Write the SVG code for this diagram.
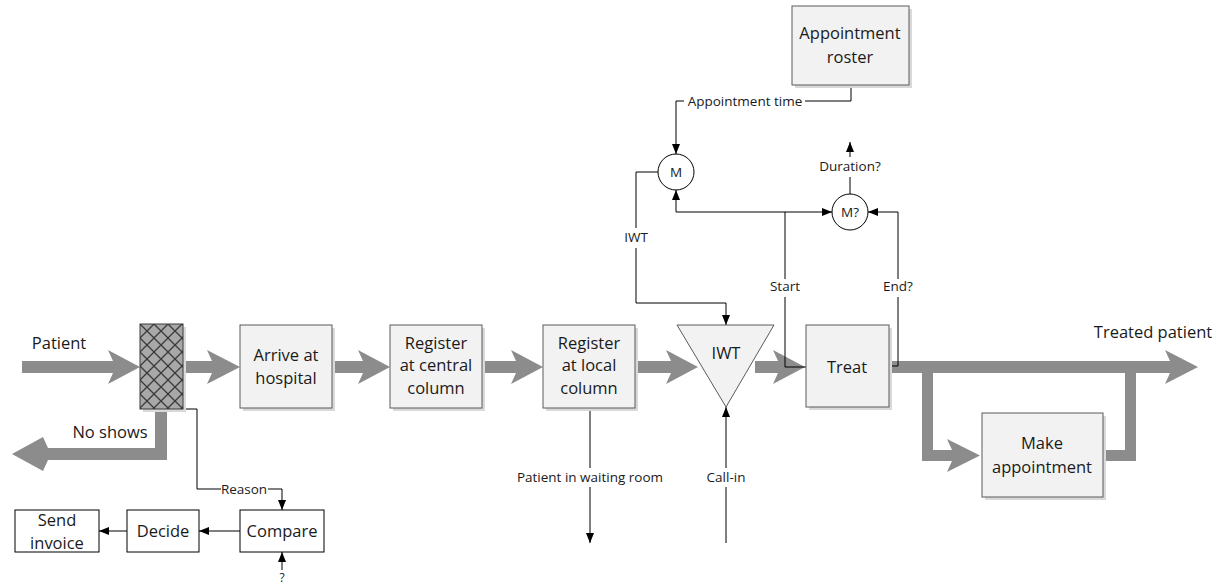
<svg xmlns="http://www.w3.org/2000/svg" width="1232" height="586" viewBox="0 0 1232 586">
  <style>
    .box { fill: #f2f2f2; stroke: #5a5a5a; stroke-width: 1; }
    .shadow { fill: #d9d9d9; }
    .plain { fill: #ffffff; stroke: #000000; stroke-width: 1; }
    .flow { fill: #8c8c8c; }
    .wire { fill: none; stroke: #000000; stroke-width: 1; }
    .big { font-family: "Open Sans", "Liberation Sans", sans-serif; font-size: 16.5px; fill: #1a1a1a; text-anchor: middle; }
    .small { font-family: "Open Sans", "Liberation Sans", sans-serif; font-size: 13.5px; fill: #1a1a1a; text-anchor: middle; }
  </style>
  <defs>
    <pattern id="hatch" width="14" height="14" patternUnits="userSpaceOnUse" x="140" y="324">
      <rect width="14" height="14" fill="#a8a8a8"/>
      <path d="M0,0 L14,14 M14,0 L0,14 M-1,13 L1,15 M13,-1 L15,1" stroke="#3a3a3a" stroke-width="1.3"/>
    </pattern>
    <marker id="ah" markerWidth="10" markerHeight="8" refX="10" refY="4" orient="auto" markerUnits="userSpaceOnUse">
      <path d="M0,0 L10,4 L0,8 Z" fill="#000000"/>
    </marker>
  </defs>

  <!-- thick material flow arrows -->
  <g id="flows">
    <polygon class="flow" points="22,361 113,361 108,350 140,367 108,384 113,373 22,373"/>
    <polygon class="flow" points="183,361 212,361 207,350 240,367 207,384 212,373 183,373"/>
    <polygon class="flow" points="332,361 363,361 358,350 390,367 358,384 363,373 332,373"/>
    <polygon class="flow" points="482,361 516,361 511,350 543,367 511,384 516,373 482,373"/>
    <polygon class="flow" points="635,361 671,361 666,350 698,367 666,384 671,373 635,373"/>
    <polygon class="flow" points="755,361 778,361 773,350 805,367 773,384 778,373 755,373"/>
    <!-- treated patient exit with appointment loop -->
    <polygon class="flow" points="889,361 1170,361 1165,350 1198,367 1165,384 1170,373 1136,373 1136,461 1103,461 1103,450 1125,450 1125,373 933,373 933,450 952,450 947,439 980,455.5 947,472 952,461 922,461 922,373 889,373"/>
    <!-- no shows -->
    <polygon class="flow" points="155,409 167,409 167,460 48,460 43,471 12,454 43,437 48,448 155,448"/>
  </g>

  <!-- information connectors -->
  <g id="connectors">
    <path class="wire" d="M851,85 V101 H805"/>
    <path class="wire" d="M684,101 H676 V154" marker-end="url(#ah)"/>
    <path class="wire" d="M658,172 H636 V228"/>
    <path class="wire" d="M636,248 V303 H726 V325" marker-end="url(#ah)"/>
    <path class="wire" d="M806,367 H785 V297"/>
    <path class="wire" d="M785,279 V212 H676 V190" marker-end="url(#ah)"/>
    <path class="wire" d="M785,212 H832" marker-end="url(#ah)"/>
    <path class="wire" d="M889,366 H898 V297"/>
    <path class="wire" d="M898,279 V212 H868" marker-end="url(#ah)"/>
    <path class="wire" d="M850,194 V177"/>
    <path class="wire" d="M850,157 V142" marker-end="url(#ah)"/>
    <path class="wire" d="M590,408 V468"/>
    <path class="wire" d="M590,487 V543" marker-end="url(#ah)"/>
    <path class="wire" d="M726,543 V487"/>
    <path class="wire" d="M726,468 V407" marker-end="url(#ah)"/>
    <path class="wire" d="M183,409 H197 V489 H221"/>
    <path class="wire" d="M268,489 H282 V510" marker-end="url(#ah)"/>
    <path class="wire" d="M240,531 H199" marker-end="url(#ah)"/>
    <path class="wire" d="M127,531 H99" marker-end="url(#ah)"/>
    <path class="wire" d="M282,570 V552" marker-end="url(#ah)"/>
  </g>

  <!-- connector labels -->
  <g id="labels">
    <text class="big" x="59" y="349">Patient</text>
    <text class="big" x="110" y="438">No shows</text>
    <text class="big" x="1153" y="338">Treated patient</text>
    <text class="small" x="745" y="106">Appointment time</text>
    <text class="small" x="636" y="242">IWT</text>
    <text class="small" x="850" y="171">Duration?</text>
    <text class="small" x="785" y="291">Start</text>
    <text class="small" x="898" y="291">End?</text>
    <text class="small" x="590" y="482">Patient in waiting room</text>
    <text class="small" x="726" y="482">Call-in</text>
    <text class="small" x="244" y="494">Reason</text>
    <text class="small" x="282" y="582" style="font-size:12px">?</text>
  </g>

  <g id="gate">
    <rect class="shadow" x="143" y="327" width="43" height="85"/>
    <rect x="140" y="324" width="43" height="85" fill="url(#hatch)" stroke="#3a3a3a" stroke-width="1"/>
  </g>

  <g id="arrive">
    <rect class="shadow" x="243" y="328" width="92" height="83"/>
    <rect class="box" x="240" y="325" width="92" height="83"/>
    <text class="big" x="286" y="361">Arrive at</text>
    <text class="big" x="286" y="384">hospital</text>
  </g>

  <g id="register-central">
    <rect class="shadow" x="393" y="328" width="92" height="83"/>
    <rect class="box" x="390" y="325" width="92" height="83"/>
    <text class="big" x="436" y="349">Register</text>
    <text class="big" x="436" y="371">at central</text>
    <text class="big" x="436" y="394">column</text>
  </g>

  <g id="register-local">
    <rect class="shadow" x="546" y="328" width="92" height="83"/>
    <rect class="box" x="543" y="325" width="92" height="83"/>
    <text class="big" x="589" y="349">Register</text>
    <text class="big" x="589" y="371">at local</text>
    <text class="big" x="589" y="394">column</text>
  </g>

  <g id="iwt">
    <polygon class="box" points="677,325 774,325 726,407"/>
    <text class="big" x="726" y="359">IWT</text>
  </g>

  <g id="treat">
    <rect class="shadow" x="809" y="328" width="83" height="82"/>
    <rect class="box" x="806" y="325" width="83" height="82"/>
    <text class="big" x="847" y="373">Treat</text>
  </g>

  <g id="make-appointment">
    <rect class="shadow" x="985" y="416" width="121" height="84"/>
    <rect class="box" x="982" y="413" width="121" height="84"/>
    <text class="big" x="1042" y="449">Make</text>
    <text class="big" x="1042" y="473">appointment</text>
  </g>

  <g id="roster">
    <rect class="shadow" x="795" y="9" width="117" height="79"/>
    <rect class="box" x="792" y="6" width="117" height="79"/>
    <text class="big" x="850" y="39">Appointment</text>
    <text class="big" x="850" y="63">roster</text>
  </g>

  <g id="measure-m">
    <circle class="plain" cx="676" cy="172" r="18"/>
    <text class="small" x="676" y="177">M</text>
  </g>

  <g id="measure-m2">
    <circle class="plain" cx="850" cy="212" r="18"/>
    <text class="small" x="850" y="217">M?</text>
  </g>

  <g id="compare">
    <rect class="plain" x="240" y="510" width="84" height="42"/>
    <text class="big" x="282" y="537">Compare</text>
  </g>

  <g id="decide">
    <rect class="plain" x="127" y="510" width="72" height="42"/>
    <text class="big" x="163" y="537">Decide</text>
  </g>

  <g id="send-invoice">
    <rect class="plain" x="15" y="510" width="84" height="42"/>
    <text class="big" x="57" y="526">Send</text>
    <text class="big" x="57" y="549">invoice</text>
  </g>
</svg>
